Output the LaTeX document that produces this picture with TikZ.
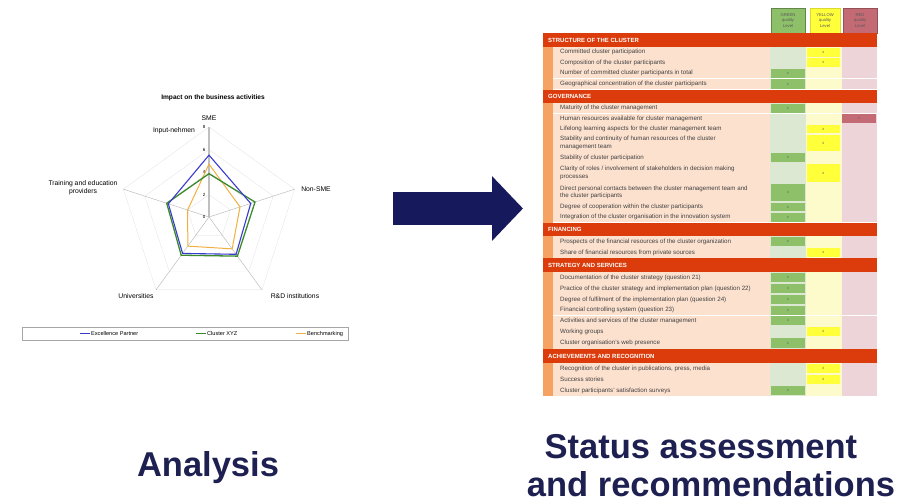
\documentclass[tikz,border=0pt]{standalone}
\usepackage{fontspec}
\setmainfont{Liberation Sans}
\usetikzlibrary{arrows.meta}
\definecolor{navy}{HTML}{161A5C}
\definecolor{titlenavy}{HTML}{1D2050}
\definecolor{secred}{HTML}{DC3C0C}
\definecolor{stripe}{HTML}{F5A263}
\definecolor{rowbg}{HTML}{FCE1CF}
\definecolor{pale1}{HTML}{DDE8D3}
\definecolor{pale2}{HTML}{FDFACC}
\definecolor{pale3}{HTML}{EDD4D8}
\definecolor{mark1}{HTML}{8EC06A}
\definecolor{mark2}{HTML}{FFFF3A}
\definecolor{mark3}{HTML}{C46A74}
\definecolor{serblue}{HTML}{3A3AD0}
\definecolor{sergreen}{HTML}{3A8A2C}
\definecolor{serorange}{HTML}{F0B040}
\begin{document}
\begin{tikzpicture}[x=1pt,y=-1pt,
    lbl/.style={font=\fontsize{6.8}{8}\selectfont,inner sep=0pt,align=center},
    rowtxt/.style={font=\fontsize{6.2}{7.6}\selectfont,text=black!75,inner sep=0pt,anchor=west,align=left},
    sectxt/.style={font=\fontsize{6}{7}\selectfont\bfseries,text=white,inner sep=0pt,anchor=west},
    hdr/.style={minimum width=34pt,minimum height=25pt,inner sep=0pt,align=center,font=\fontsize{4.2}{5.2}\selectfont,text=black!65,line width=0.6pt},
    bigtxt/.style={font=\fontsize{34.5}{38}\selectfont\bfseries,text=titlenavy,inner sep=0pt,anchor=base}]
    \useasboundingbox (0,0) rectangle (899,503);
    % radar chart
    \node[lbl,font=\fontsize{6.6}{8}\selectfont\bfseries] (charttitle) at (213,98) {Impact on the business activities};
    \begin{scope}[shift={(209,217)},x=11.25pt,y=11.25pt]
        \foreach \r in {2,4,6,8}
            \draw[very thin,gray!30] (90:\r) -- (162:\r) -- (234:\r) -- (306:\r) -- (18:\r) -- cycle;
        \foreach \a in {18,162,234,306} { \draw[thin,gray!60] (0,0) -- (\a:8); }
        \draw[line width=1.8pt,gray!50] (0,0) -- (90:8);
        \foreach \v in {0,2,4,6,8}
            \node[font=\fontsize{4.5}{5}\selectfont,anchor=east,inner sep=0pt] (tick\v) at (-0.3,\v) {\v};
        \draw[serorange,line width=1pt] (90:4.7) -- (18:2.9) -- (306:3.5) -- (234:3.2) -- (162:2.0) -- cycle;
        \draw[sergreen,line width=1.3pt] (90:3.85) -- (18:4.3) -- (306:4.3) -- (234:4.2) -- (162:3.95) -- cycle;
        \draw[serblue,line width=1.1pt] (90:5.5) -- (18:3.9) -- (306:4.1) -- (234:4.0) -- (162:3.8) -- cycle;
    \end{scope}
    \node[lbl] (lsme) at (209,118) {SME};
    \node[lbl] (linput) at (174,131) {Input-nehmen};
    \node[lbl] (lnonsme) at (316,189) {Non-SME};
    \node[lbl] (lrd) at (295,296) {R\&D institutions};
    \node[lbl] (luni) at (136,296) {Universities};
    \node[lbl] (ltrain) at (83,188) {Training and education\\providers};
    % legend
    \draw[thin,gray!70] (22,327) rectangle (348,340);
    \foreach \x/\c/\name [count=\i] in {80/serblue/Excellence Partner,196/sergreen/Cluster XYZ,296/serorange/Benchmarking}
        {
            \draw[\c,line width=1pt](\x,333.5)--++(10,0);
            \node[lbl,font=\fontsize{5.6}{6}\selectfont,anchor=base west] (leg\i) at (\x+11,335.5) {\name};
        }
    % arrow
    \coordinate (arrowtail) at (393,208.5);
    \coordinate (arrowtip) at (523,208.5);
    \draw[navy,line width=33pt,-{Triangle[length=31pt,width=63pt]}] (arrowtail) -- (arrowtip);
    % table
    \node[hdr,fill=mark1,draw=mark1!70!black] (hgreen) at (788,20.5) {GREEN\\quality\\Level};
    \node[hdr,fill=mark2,draw=mark2!85!black,minimum width=30pt] (hyellow) at (825,20.5) {YELLOW\\quality\\Level};
    \node[hdr,fill=mark3,draw=mark3!75!black] (hred) at (860,20.5) {RED\\quality\\Level};
    \foreach \ya/\hh/\mm/\txt [count=\i] in {
        47/10.5/2/{Committed cluster participation},
        57.5/10.5/2/{Composition of the cluster participants},
        68/10.5/1/{Number of committed cluster participants in total},
        78.5/11/1/{Geographical concentration of the cluster participants},
        103/10.5/1/{Maturity of the cluster management},
        113.5/10.5/3/{Human resources available for cluster management},
        124/10/2/{Lifelong learning aspects for the cluster management team},
        134/18/2/{Stability and continuity of human resources of the cluster\\management team},
        152/11/1/{Stability of cluster participation},
        163/20/2/{Clarity of roles / involvement of stakeholders in decision making\\processes},
        183/19/1/{Direct personal contacts between the cluster management team and\\the cluster participants},
        202/10/1/{Degree of cooperation within the cluster participants},
        212/10.5/1/{Integration of the cluster organisation in the innovation system},
        236/11/1/{Prospects of the financial resources of the cluster organization},
        247/11/2/{Share of financial resources from private sources},
        272/11/1/{Documentation of the cluster strategy (question 21)},
        283/11/1/{Practice of the cluster strategy and implementation plan (question 22)},
        294/11/1/{Degree of fulfilment of the implementation plan (question 24)},
        305/10.5/1/{Financial controlling system (question 23)},
        315.5/10.5/1/{Activities and services of the cluster management},
        326/11/2/{Working groups},
        337/12/1/{Cluster organisation's web presence},
        363/11/2/{Recognition of the cluster in publications, press, media},
        374/11/2/{Success stories},
        385/11/1/{Cluster participants' satisfaction surveys}}
        {
            \fill[stripe](543,\ya)rectangle(553,\ya+\hh);
            \fill[rowbg](553,\ya)rectangle(770,\ya+\hh);
            \fill[pale1](770,\ya)rectangle(806,\ya+\hh);
            \fill[pale2](806,\ya)rectangle(841.5,\ya+\hh);
            \fill[pale3](841.5,\ya)rectangle(877,\ya+\hh);
            \pgfmathsetmacro\cx{770+35.67*(\mm-1)}
            \fill[mark\mm](\cx+1,\ya+0.6)rectangle(\cx+34.67,\ya+\hh-0.6);
            \draw[white,line width=0.5pt](553,\ya+\hh)--(877,\ya+\hh);
            \node[rowtxt] (row\i) at (560,\ya+\hh/2) {\txt};
            \node[font=\fontsize{4}{4}\selectfont,inner sep=0pt,text=black!60] (x\i) at (\cx+17.8,\ya+\hh/2) {x};
        }
    \foreach \ya/\hh/\txt [count=\i] in {33/14/STRUCTURE OF THE CLUSTER,89.5/13.5/GOVERNANCE,222.5/13.5/FINANCING,258/14/STRATEGY AND SERVICES,349/14/ACHIEVEMENTS AND RECOGNITION}
        {
            \fill[secred](543,\ya)rectangle(877,\ya+\hh);
            \node[sectxt] (sec\i) at (548,\ya+\hh/2) {\txt};
        }
    % captions
    \node[bigtxt] (analysis) at (208,476) {Analysis};
    \node[bigtxt] (status1) at (701,458) {Status assessment};
    \node[bigtxt] (status2) at (711,496) {and recommendations};
\end{tikzpicture}
\end{document}
